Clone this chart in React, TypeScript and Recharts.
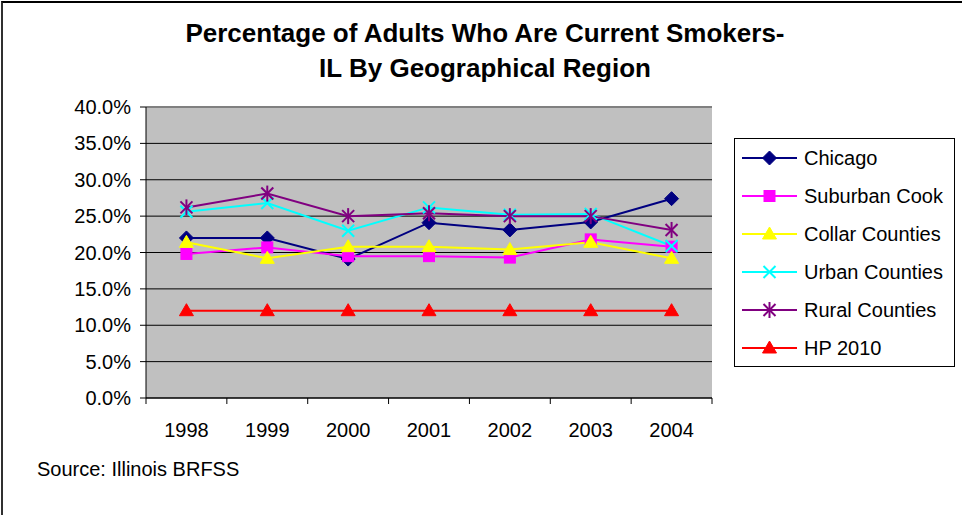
import React from "react";
import { LineChart, Line, XAxis, YAxis, CartesianGrid, ReferenceLine } from "recharts";

const years = ["1998", "1999", "2000", "2001", "2002", "2003", "2004"];
const chicago = [22.0, 22.0, 19.1, 24.1, 23.1, 24.2, 27.4];
const suburbanCook = [19.8, 20.7, 19.5, 19.5, 19.3, 21.8, 20.8];
const collarCounties = [21.4, 19.2, 20.8, 20.8, 20.4, 21.4, 19.2];
const urbanCounties = [25.6, 26.8, 23.0, 26.2, 25.2, 25.3, 20.9];
const ruralCounties = [26.2, 28.1, 25.0, 25.4, 25.0, 25.0, 23.1];
const hp2010 = [12, 12, 12, 12, 12, 12, 12];
const yTicks = [0, 5, 10, 15, 20, 25, 30, 35, 40];

const series = [
  { key: "Chicago", values: chicago, color: "#000080", shape: "diamond" },
  { key: "Suburban Cook", values: suburbanCook, color: "#FF00FF", shape: "square" },
  { key: "Collar Counties", values: collarCounties, color: "#FFFF00", shape: "triangle" },
  { key: "Urban Counties", values: urbanCounties, color: "#00FFFF", shape: "x" },
  { key: "Rural Counties", values: ruralCounties, color: "#800080", shape: "star" },
  { key: "HP 2010", values: hp2010, color: "#FF0000", shape: "triangle" },
];

const data = years.map((year, i) => {
  const row: Record<string, string | number> = { year };
  series.forEach((s) => (row[s.key] = s.values[i]));
  return row;
});

const FONT = "'Liberation Sans', Arial, sans-serif";

function Marker({ shape, cx, cy, color }: { shape: string; cx: number; cy: number; color: string }) {
  if (cx == null || cy == null) return null;
  switch (shape) {
    case "diamond":
      return <polygon points={`${cx},${cy - 7} ${cx + 7},${cy} ${cx},${cy + 7} ${cx - 7},${cy}`} fill={color} stroke={color} />;
    case "square":
      return <rect x={cx - 5.5} y={cy - 5.5} width={11} height={11} fill={color} stroke={color} />;
    case "triangle":
      return <polygon points={`${cx},${cy - 7} ${cx + 7},${cy + 5} ${cx - 7},${cy + 5}`} fill={color} stroke={color} />;
    case "x":
      return (
        <g stroke={color} strokeWidth={2}>
          <line x1={cx - 6} y1={cy - 6} x2={cx + 6} y2={cy + 6} />
          <line x1={cx - 6} y1={cy + 6} x2={cx + 6} y2={cy - 6} />
        </g>
      );
    case "star":
      return (
        <g stroke={color} strokeWidth={2}>
          <line x1={cx - 6} y1={cy - 6} x2={cx + 6} y2={cy + 6} />
          <line x1={cx - 6} y1={cy + 6} x2={cx + 6} y2={cy - 6} />
          <line x1={cx} y1={cy - 8} x2={cx} y2={cy + 8} />
        </g>
      );
    default:
      return null;
  }
}

function YearTick(props: any) {
  const { x, y, payload, index, visibleTicksCount } = props;
  const axisY = y - 25;
  const half = payload.offset || 0;
  return (
    <g>
      <text x={x} y={y} dy="0.71em" textAnchor="middle" fill="#000" fontSize={20} fontFamily={FONT}>
        {payload.value}
      </text>
      <line x1={x - half} y1={axisY} x2={x - half} y2={axisY + 6} stroke="#000" />
      {index === visibleTicksCount - 1 && <line x1={x + half} y1={axisY} x2={x + half} y2={axisY + 6} stroke="#000" />}
    </g>
  );
}

function LegendBox() {
  return (
    <div
      style={{
        position: "absolute",
        left: 734,
        top: 138,
        width: 221,
        height: 229,
        border: "1px solid #000",
        background: "#fff",
        boxSizing: "border-box",
      }}
    >
      {series.map((s) => (
        <div key={s.key} style={{ height: 38, display: "flex", alignItems: "center" }}>
          <svg width={69} height={20} style={{ flex: "none" }}>
            <line x1={7} y1={10} x2={62} y2={10} stroke={s.color} strokeWidth={2} />
            <Marker shape={s.shape} cx={34.5} cy={10} color={s.color} />
          </svg>
          <span style={{ fontSize: 20, fontFamily: FONT, color: "#000", whiteSpace: "nowrap" }}>{s.key}</span>
        </div>
      ))}
    </div>
  );
}

export default function App() {
  return (
    <div style={{ position: "absolute", left: 0, top: 0, width: 962, height: 515, background: "#fff", fontFamily: FONT }}>
      <div
        style={{
          position: "absolute",
          left: 1,
          top: 1,
          width: 961,
          height: 514,
          borderTop: "2px solid #000",
          borderLeft: "2px solid #303030",
        }}
      />
      <div
        style={{
          position: "absolute",
          left: 135,
          width: 700,
          top: 16,
          textAlign: "center",
          fontWeight: "bold",
          fontSize: 26,
          lineHeight: "35px",
          color: "#000",
        }}
      >
        Percentage of Adults Who Are Current Smokers-
        <br />
        IL By Geographical Region
      </div>
      <div style={{ position: "absolute", left: 0, top: 0 }}>
        <LineChart width={962} height={515} data={data} margin={{ top: 107, right: 250, bottom: 77, left: 46 }}>
          <CartesianGrid vertical={false} stroke="#000" fill="#C0C0C0" fillOpacity={1} />
          <ReferenceLine y={40} stroke="#808080" strokeWidth={2} />
          <XAxis
            dataKey="year"
            scale="band"
            height={40}
            stroke="#000"
            tickLine={false}
            tickSize={6}
            tickMargin={19}
            tick={<YearTick />}
            interval={0}
          />
          <YAxis
            domain={[0, 40]}
            ticks={yTicks}
            interval={0}
            width={100}
            stroke="#000"
            tickSize={6}
            tickMargin={9}
            tick={{ fill: "#000", fontSize: 20, fontFamily: FONT }}
            tickFormatter={(v: number) => `${v.toFixed(1)}%`}
          />
          <YAxis
            yAxisId="frame"
            orientation="right"
            domain={[0, 40]}
            width={0}
            tick={false}
            tickLine={false}
            stroke="#808080"
            strokeWidth={2}
          />
          {series.map((s) => (
            <Line
              key={s.key}
              dataKey={s.key}
              stroke={s.color}
              strokeWidth={2}
              isAnimationActive={false}
              dot={(p: any) => <Marker key={`${s.key}-${p.index}`} shape={s.shape} cx={p.cx} cy={p.cy} color={s.color} />}
              activeDot={false}
            />
          ))}
        </LineChart>
      </div>
      <LegendBox />
      <div style={{ position: "absolute", left: 37, top: 459, fontSize: 20, lineHeight: "20px", color: "#000" }}>
        Source: Illinois BRFSS
      </div>
    </div>
  );
}
